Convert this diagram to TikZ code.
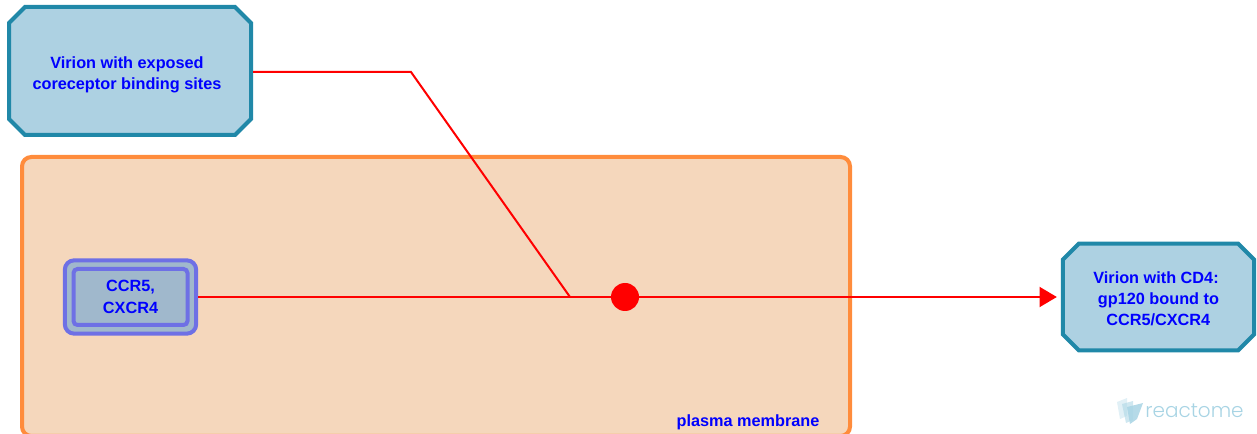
\documentclass[tikz,border=0pt]{standalone}
\usepackage{fontspec}
\setmainfont{Liberation Sans}
\newfontfamily\logofont{Poppins}[UprightFont=* Light]
\usepackage{xcolor}
\usetikzlibrary{arrows.meta, positioning, calc, shapes.misc}
\definecolor{virionfill}{RGB}{173,209,226}
\definecolor{virionedge}{RGB}{32,136,168}
\definecolor{membfill}{RGB}{245,215,188}
\definecolor{membedge}{RGB}{255,140,60}
\definecolor{protfill}{RGB}{160,184,204}
\definecolor{protedge}{RGB}{110,112,229}
\definecolor{logoblue}{RGB}{168,212,228}
\tikzset{
  label text/.style={text=blue, font=\fontsize{12.2pt}{16pt}\selectfont\bfseries, align=center},
  virion/.style={label text, chamfered rectangle, chamfered rectangle xsep=6pt, chamfered rectangle ysep=6pt,
    draw=virionedge, fill=virionfill, line width=3pt, inner sep=0pt, outer sep=1.5pt},
  protbox/.style={rectangle, draw=protedge, line width=3pt, inner sep=0pt, outer sep=1.5pt},
  reaction/.style={draw=red, line width=1.5pt},
}
\begin{document}
\begin{tikzpicture}[x=0.75pt, y=-0.75pt]
  \useasboundingbox (0,0) rectangle (1257,434);
  \begin{scope}
    \clip (0,0) rectangle (1257,434);
    \draw[draw=membedge, fill=membfill, line width=3pt, rounded corners=7pt] (22,157) rectangle (850,436);
  \end{scope}
  \node[label text] (membrane) at (748,422) {plasma membrane};

  \node[virion, minimum width=181.5pt, minimum height=96pt] (exposed) at (130,71)
    {\rule{0pt}{14.6pt}Virion with exposed\hspace*{4.5pt}\\coreceptor binding sites\hspace*{4.5pt}};
  \node[virion, minimum width=143.5pt, minimum height=80pt] (bound) at (1158.5,297)
    {\rule{0pt}{11.6pt}Virion with CD4:\hspace*{3.75pt}\\gp120 bound to\hspace*{3.75pt}\\\ CCR5/CXCR4\hspace*{3.75pt}};

  \node[protbox, rounded corners=7pt, fill=protfill, minimum width=98.5pt, minimum height=55pt] (outerbox) at (130.5,297) {};
  \node[protbox, rounded corners=3pt, label text, minimum width=85.5pt, minimum height=42pt] (receptor) at (130.5,297) {CCR5,\\CXCR4};

  \coordinate (bend) at (411,72);
  \coordinate (junction) at (570,297);
  \node[circle, fill=red, minimum size=21pt, inner sep=0pt] (dot) at (625,297) {};

  \draw[reaction] (exposed.east |- bend) -- (bend) -- (junction);
  \draw[reaction] (outerbox.east) -- (junction) -- (dot);
  \draw[reaction, shorten >=3pt, -{Triangle[length=13pt, width=15pt]}] (dot) -- (bound.west);

  \fill[logoblue, opacity=0.35] (1117,402) -- (1127,398) -- (1127,416) -- (1120,419) -- cycle;
  \fill[logoblue, opacity=0.55] (1122,404) -- (1133,401) -- (1133,420) -- (1126,423) -- cycle;
  \fill[logoblue, opacity=0.85] (1127,407) -- (1143,403) -- (1137,419) -- (1130,424) -- cycle;
  \node[text=logoblue, font=\logofont\fontsize{15pt}{18pt}\selectfont, inner sep=0pt] (logo) at (1194.5,411) {reactome};
\end{tikzpicture}
\end{document}
